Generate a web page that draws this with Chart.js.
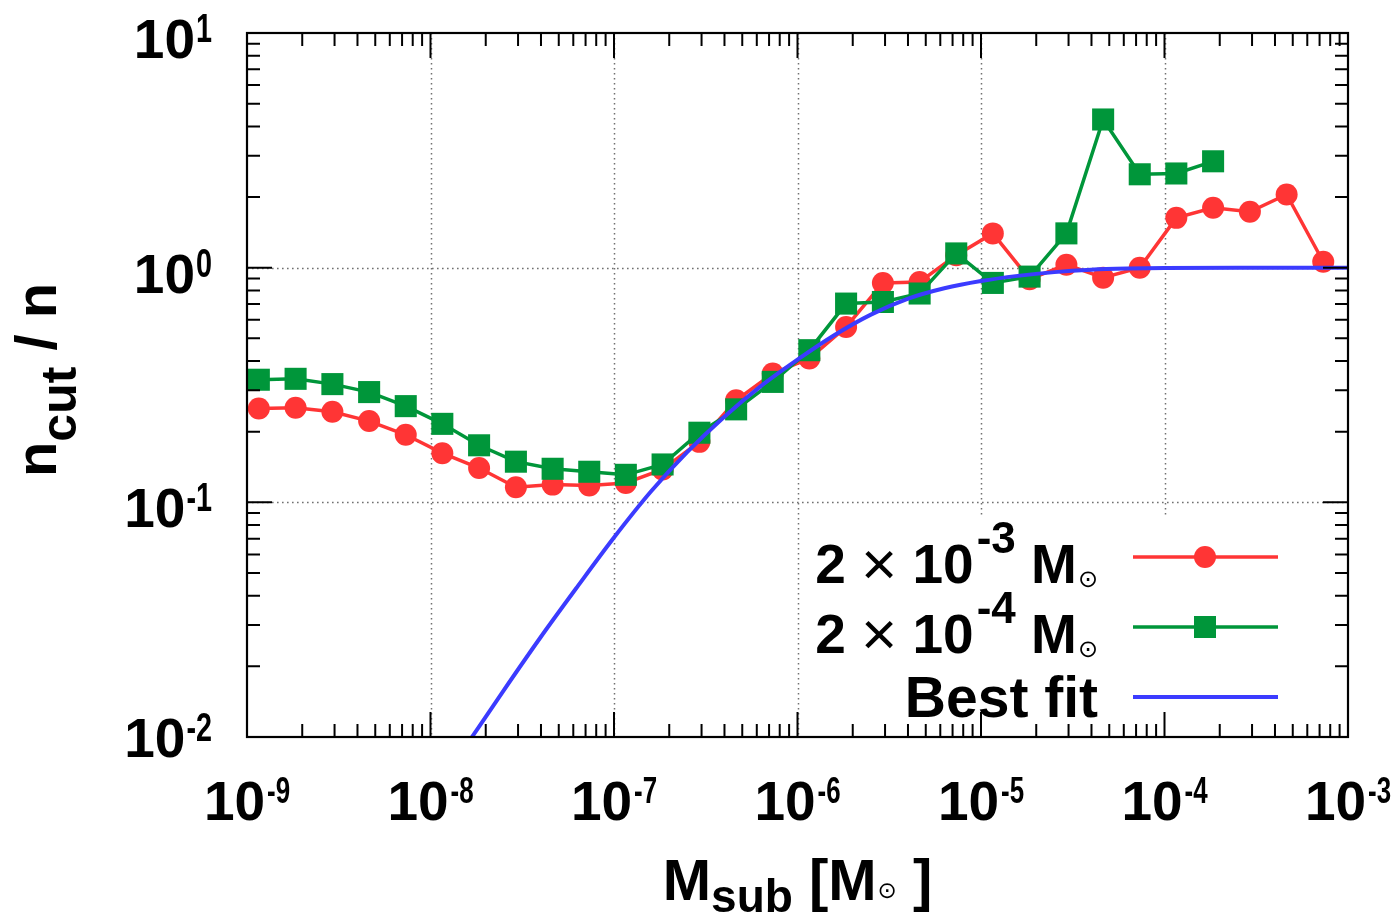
<!DOCTYPE html>
<html>
<head>
<meta charset="utf-8">
<script src="https://cdn.jsdelivr.net/npm/chart.js@4.4.1/dist/chart.umd.min.js"></script>
<style>
  html, body { margin: 0; padding: 0; background: #ffffff; }
  canvas { display: block; }
</style>
</head>
<body>
<canvas id="chart" width="1395" height="915"></canvas>
<script>
// Subhalo mass bins (solar masses), shared by both samples
const massBins = [
  1.16e-9, 1.84e-9, 2.92e-9, 4.63e-9, 7.33e-9,
  1.16e-8, 1.84e-8, 2.92e-8, 4.63e-8, 7.33e-8,
  1.16e-7, 1.84e-7, 2.92e-7, 4.63e-7, 7.33e-7,
  1.16e-6, 1.84e-6, 2.92e-6, 4.63e-6, 7.33e-6,
  1.16e-5, 1.84e-5, 2.92e-5, 4.63e-5, 7.33e-5,
  1.16e-4, 1.84e-4, 2.92e-4, 4.63e-4, 7.33e-4
];

// n_cut / n for the 2e-3 Msun host sample
const ratioHeavy = [
  0.251, 0.253, 0.243, 0.222, 0.194, 0.162, 0.140, 0.116, 0.119, 0.118,
  0.121, 0.138, 0.181, 0.272, 0.354, 0.410, 0.559, 0.861, 0.869, 1.13,
  1.40, 0.893, 1.03, 0.906, 1.00, 1.63, 1.80, 1.73, 2.05, 1.06
];

// n_cut / n for the 2e-4 Msun host sample (first 27 bins)
const ratioLight = [
  0.333, 0.336, 0.319, 0.295, 0.257, 0.216, 0.175, 0.149, 0.139, 0.135,
  0.131, 0.145, 0.198, 0.249, 0.326, 0.445, 0.703, 0.714, 0.776, 1.15,
  0.861, 0.916, 1.40, 4.28, 2.50, 2.52, 2.84
];

// Best-fit curve samples
const fitMass = [
  1.585e-8, 2.512e-8, 3.981e-8, 6.310e-8, 1.0e-7, 1.585e-7, 2.512e-7, 3.981e-7,
  6.310e-7, 1.0e-6, 1.585e-6, 2.512e-6, 3.981e-6, 6.310e-6, 1.0e-5, 1.585e-5,
  2.512e-5, 3.981e-5, 6.310e-5, 1.0e-4, 3.162e-4, 1.0e-3
];
const fitRatio = [
  0.00933, 0.01585, 0.02661, 0.04365, 0.07079, 0.1109, 0.1641, 0.2312,
  0.3126, 0.4055, 0.5152, 0.6310, 0.7362, 0.8166, 0.8770, 0.9226,
  0.9572, 0.9795, 0.9908, 0.9966, 1.0, 1.0
];

// Decade exponents for the tick labels
const xTickExps = [-9, -8, -7, -6, -5, -4, -3];
const yTickExps = [-2, -1, 0, 1];

const RED = '#ff3535';
const GREEN = '#00963a';
const BLUE = '#3b3bff';
const FONT = "'Liberation Sans', Arial, Helvetica, sans-serif";
const SYMFONT = "'DejaVu Sans', sans-serif";

function bold(px) { return 'bold ' + px + 'px ' + FONT; }

function measureRuns(ctx, pieces) {
  let w = 0;
  for (const p of pieces) {
    ctx.font = p.font;
    p.w = ctx.measureText(p.t).width * (p.sx || 1) + (p.gap || 0);
    w += p.w;
  }
  return w;
}

function drawRuns(ctx, pieces, x, y, align) {
  const w = measureRuns(ctx, pieces);
  let cx = align === 'center' ? x - w / 2 : align === 'right' ? x - w : x;
  ctx.textAlign = 'left';
  ctx.textBaseline = 'alphabetic';
  for (const p of pieces) {
    ctx.font = p.font;
    ctx.save();
    ctx.translate(cx + (p.gap || 0), y + (p.dy || 0));
    ctx.scale(p.sx || 1, 1);
    ctx.fillText(p.t, 0, 0);
    ctx.restore();
    cx += p.w;
  }
  return w;
}

function minorValues(lo, hi) {
  const out = [];
  for (let d = lo; d < hi; d++) {
    for (let m = 2; m <= 9; m++) out.push(m * Math.pow(10, d));
  }
  return out;
}

const framePlugin = {
  id: 'frameAndLabels',
  beforeDatasetsDraw(chart) {
    const { ctx, chartArea: a, scales: { x, y } } = chart;
    ctx.save();
    ctx.strokeStyle = '#707070';
    ctx.lineWidth = 1.5;
    ctx.setLineDash([1.6, 3.4]);
    for (const e of xTickExps) {
      const px = Math.round(x.getPixelForValue(Math.pow(10, e))) + 0.5;
      if (px <= a.left + 2 || px >= a.right - 2) continue;
      ctx.beginPath(); ctx.moveTo(px, a.top); ctx.lineTo(px, a.bottom); ctx.stroke();
    }
    for (const e of yTickExps) {
      const py = Math.round(y.getPixelForValue(Math.pow(10, e))) + 0.5;
      if (py <= a.top + 2 || py >= a.bottom - 2) continue;
      ctx.beginPath(); ctx.moveTo(a.left, py); ctx.lineTo(a.right, py); ctx.stroke();
    }
    ctx.restore();
  },
  afterDatasetsDraw(chart) {
    const { ctx, chartArea: a, scales: { x, y } } = chart;
    ctx.save();

    // opaque key box
    ctx.fillStyle = '#ffffff';
    ctx.fillRect(a.left + 556, a.bottom - 222, a.right - 50 - (a.left + 556), 222);

    // tick marks on all four sides
    ctx.strokeStyle = '#000000';
    ctx.lineWidth = 2;
    ctx.setLineDash([]);
    const MAJ = 25, MIN = 13;
    const xMin = minorValues(-9, -3);
    const yMin = minorValues(-2, 1);
    ctx.beginPath();
    for (const v of xMin) {
      const px = x.getPixelForValue(v);
      ctx.moveTo(px, a.bottom); ctx.lineTo(px, a.bottom - MIN);
      ctx.moveTo(px, a.top); ctx.lineTo(px, a.top + MIN);
    }
    for (const e of xTickExps) {
      const px = x.getPixelForValue(Math.pow(10, e));
      ctx.moveTo(px, a.bottom); ctx.lineTo(px, a.bottom - MAJ);
      ctx.moveTo(px, a.top); ctx.lineTo(px, a.top + MAJ);
    }
    for (const v of yMin) {
      const py = y.getPixelForValue(v);
      ctx.moveTo(a.left, py); ctx.lineTo(a.left + MIN, py);
      ctx.moveTo(a.right, py); ctx.lineTo(a.right - MIN, py);
    }
    for (const e of yTickExps) {
      const py = y.getPixelForValue(Math.pow(10, e));
      ctx.moveTo(a.left, py); ctx.lineTo(a.left + MAJ, py);
      ctx.moveTo(a.right, py); ctx.lineTo(a.right - MAJ, py);
    }
    ctx.stroke();

    // frame
    ctx.lineWidth = 2.2;
    ctx.strokeRect(a.left, a.top, a.right - a.left, a.bottom - a.top);

    ctx.fillStyle = '#000000';

    // x tick labels
    for (const e of xTickExps) {
      const px = x.getPixelForValue(Math.pow(10, e));
      const pieces = [
        { t: '10', font: bold(55) },
        { t: String(e), font: bold(36), dy: -17, sx: 0.72, gap: 2 }
      ];
      const w = measureRuns(ctx, pieces);
      let cx = px;
      if (cx + w / 2 > chart.width - 2) cx = chart.width - 2 - w / 2;
      drawRuns(ctx, pieces, cx, a.bottom + 83, 'center');
    }

    // y tick labels
    for (const e of yTickExps) {
      const py = y.getPixelForValue(Math.pow(10, e));
      const base = Math.min(py + 25, a.bottom + 20);
      drawRuns(ctx, [
        { t: '10', font: bold(55) },
        { t: String(e), font: bold(40), dy: -16, sx: 0.72, gap: 1 }
      ], a.left - 35, base, 'right');
    }

    // x axis title: M_sub [M⊙ ]
    drawRuns(ctx, [
      { t: 'M', font: bold(58) },
      { t: 'sub', font: bold(46), dy: 12 },
      { t: ' [M', font: bold(58) },
      { t: '\u2299', font: 'normal 23px ' + SYMFONT, dy: -2, gap: 1 },
      { t: ' ]', font: bold(58) }
    ], (a.left + a.right) / 2, a.bottom + 163, 'center');

    // y axis title: n_cut / n
    ctx.save();
    ctx.translate(56, (a.top + a.bottom) / 2 - 5);
    ctx.rotate(-Math.PI / 2);
    drawRuns(ctx, [
      { t: 'n', font: bold(58) },
      { t: 'cut', font: bold(50), dy: 20 },
      { t: ' / n', font: bold(58) }
    ], 0, 0, 'center');
    ctx.restore();

    // key
    const textRight = a.right - 250;
    const lineL = a.right - 215, lineR = a.right - 70, mk = a.right - 143;
    const rows = [
      { exp: '-3', color: RED, marker: 'circle', ly: a.bottom - 180, base: a.bottom - 154 },
      { exp: '-4', color: GREEN, marker: 'square', ly: a.bottom - 110, base: a.bottom - 84 },
      { label: 'Best fit', color: BLUE, marker: null, ly: a.bottom - 40, base: a.bottom - 20 }
    ];
    for (const r of rows) {
      ctx.fillStyle = '#000000';
      if (r.label) {
        drawRuns(ctx, [{ t: r.label, font: bold(57) }], textRight, r.base, 'right');
      } else {
        drawRuns(ctx, [
          { t: '2', font: bold(55) },
          { t: ' ', font: bold(55) },
          { t: '\u00d7', font: 'normal 62px ' + FONT, dy: 2 },
          { t: ' ', font: bold(55) },
          { t: '10', font: bold(55) },
          { t: r.exp, font: bold(44), dy: -30, gap: 3 },
          { t: ' M', font: bold(55) },
          { t: '\u2299', font: 'normal 24px ' + SYMFONT, dy: 4, gap: 1 }
        ], textRight, r.base, 'right');
      }
      ctx.strokeStyle = r.color;
      ctx.lineWidth = r.marker ? 3.5 : 4;
      ctx.beginPath(); ctx.moveTo(lineL, r.ly); ctx.lineTo(lineR, r.ly); ctx.stroke();
      ctx.fillStyle = r.color;
      if (r.marker === 'circle') {
        ctx.beginPath(); ctx.arc(mk, r.ly, 11, 0, Math.PI * 2); ctx.fill();
      } else if (r.marker === 'square') {
        ctx.fillRect(mk - 11, r.ly - 11, 22, 22);
      }
    }

    ctx.restore();
  }
};

function pairs(xs, ys) {
  return ys.map((v, i) => ({ x: xs[i], y: v }));
}

new Chart(document.getElementById('chart'), {
  type: 'scatter',
  data: {
    datasets: [
      {
        label: 'Best fit',
        data: pairs(fitMass, fitRatio),
        showLine: true,
        borderColor: BLUE,
        borderWidth: 4,
        pointRadius: 0,
        cubicInterpolationMode: 'monotone',
        clip: 0,
        order: 0
      },
      {
        label: '2 \u00d7 10^-4 M\u2299',
        data: pairs(massBins, ratioLight),
        showLine: true,
        borderColor: GREEN,
        borderWidth: 3.5,
        pointStyle: 'rect',
        pointRadius: 15.6,
        pointBackgroundColor: GREEN,
        pointBorderColor: GREEN,
        pointBorderWidth: 0,
        order: 1
      },
      {
        label: '2 \u00d7 10^-3 M\u2299',
        data: pairs(massBins, ratioHeavy),
        showLine: true,
        borderColor: RED,
        borderWidth: 3.5,
        pointStyle: 'circle',
        pointRadius: 11,
        pointBackgroundColor: RED,
        pointBorderColor: RED,
        pointBorderWidth: 0,
        order: 2
      }
    ]
  },
  options: {
    responsive: false,
    devicePixelRatio: 1,
    animation: false,
    layout: { padding: { left: 247, top: 33, right: 47, bottom: 178 } },
    plugins: { legend: { display: false }, tooltip: { enabled: false } },
    scales: {
      x: { type: 'logarithmic', min: 1e-9, max: 1e-3, display: false },
      y: { type: 'logarithmic', min: 1e-2, max: 1e1, display: false }
    }
  },
  plugins: [framePlugin]
});
</script>
</body>
</html>
